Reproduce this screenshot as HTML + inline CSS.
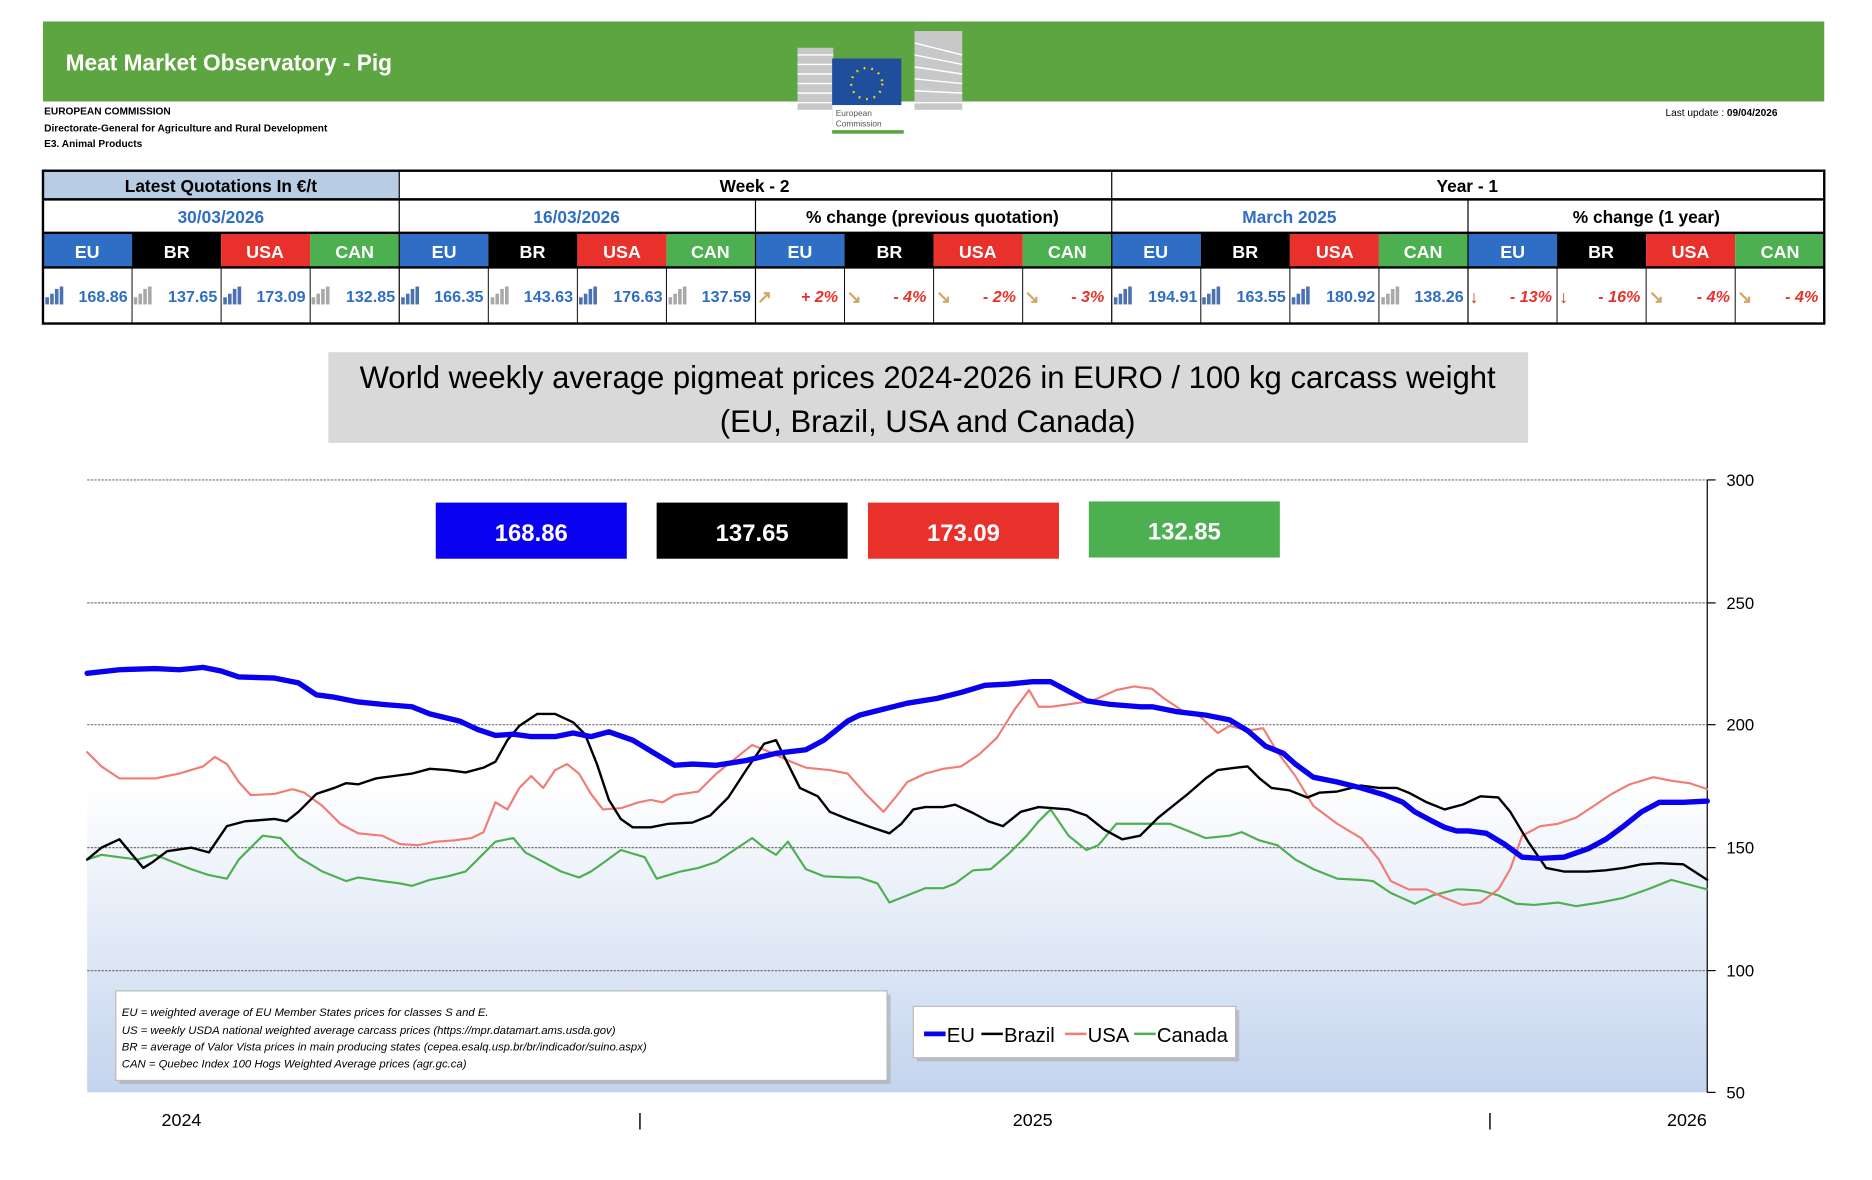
<!DOCTYPE html>
<html><head><meta charset="utf-8"><style>html,body{margin:0;padding:0;background:#fff}svg{display:block}</style></head><body>
<svg width="1872" height="1180" viewBox="0 0 1568 988.4" preserveAspectRatio="none" xmlns="http://www.w3.org/2000/svg" font-family="Liberation Sans, sans-serif">
<defs>
<linearGradient id="bg" x1="0" y1="0" x2="0" y2="1"><stop offset="0.5" stop-color="#ffffff"/><stop offset="1" stop-color="#c3d4ee"/></linearGradient>
</defs>
<!-- banner -->
<rect x="36" y="18" width="1492" height="67" fill="#5da540"/>
<text x="55" y="59" font-size="19" font-weight="bold" fill="#fff">Meat Market Observatory - Pig</text>
<g>
<g fill="#c8c8c8"><rect x="668" y="40" width="30" height="52"/><rect x="766" y="26" width="40" height="66"/></g>
<g stroke="#fff" stroke-width="1.2"><line x1="668" y1="46" x2="698" y2="46"/><line x1="668" y1="54" x2="698" y2="54"/><line x1="668" y1="62" x2="698" y2="62"/><line x1="668" y1="70" x2="698" y2="70"/><line x1="668" y1="78" x2="698" y2="78"/><line x1="668" y1="86" x2="698" y2="86"/><line x1="766" y1="36" x2="806" y2="46"/><line x1="766" y1="46" x2="806" y2="54"/><line x1="766" y1="56" x2="806" y2="62"/><line x1="766" y1="66" x2="806" y2="70"/><line x1="766" y1="76" x2="806" y2="78"/><line x1="766" y1="86" x2="806" y2="86"/></g>
<rect x="697" y="49" width="58" height="55" fill="#1f4e9c"/>
<circle cx="726" cy="70" r="13" fill="none" stroke="#ffd500" stroke-width="2" stroke-dasharray="1.5 5"/>
<rect x="697" y="88" width="60" height="20" fill="#fff"/>
<text x="700" y="97" font-size="7" fill="#555">European</text><text x="700" y="106" font-size="7" fill="#555">Commission</text>
<rect x="697" y="109" width="60" height="3" fill="#5da540"/>
</g>
<text x="37" y="96" font-size="8.5" font-weight="bold">EUROPEAN COMMISSION</text>
<text x="37" y="110" font-size="8.5" font-weight="bold">Directorate-General for Agriculture and Rural Development</text>
<text x="37" y="123" font-size="8.5" font-weight="bold">E3. Animal Products</text>
<text x="1395" y="97" font-size="8.5">Last update :  <tspan font-weight="bold">09/04/2026</tspan></text>

<!-- table -->
<rect x="36" y="143" width="298" height="24" fill="#b8cce4"/>
<g font-size="14.5" font-weight="bold" text-anchor="middle">
<text x="185" y="161">Latest Quotations In €/t</text>
<text x="632" y="161">Week - 2</text>
<text x="1229" y="161">Year - 1</text>
<text x="185" y="187" fill="#2e6ec4">30/03/2026</text>
<text x="483" y="187" fill="#2e6ec4">16/03/2026</text>
<text x="781" y="187">% change (previous quotation)</text>
<text x="1080" y="187" fill="#2e6ec4">March 2025</text>
<text x="1379" y="187">% change (1 year)</text>
</g>
<g>
<rect x="36" y="195" width="74.6" height="29" fill="#2e6ec4"/><rect x="110.6" y="195" width="74.6" height="29" fill="#000"/><rect x="185.2" y="195" width="74.6" height="29" fill="#e8312a"/><rect x="259.8" y="195" width="74.6" height="29" fill="#4caf50"/>
<rect x="334.4" y="195" width="74.6" height="29" fill="#2e6ec4"/><rect x="409" y="195" width="74.6" height="29" fill="#000"/><rect x="483.6" y="195" width="74.6" height="29" fill="#e8312a"/><rect x="558.2" y="195" width="74.6" height="29" fill="#4caf50"/>
<rect x="632.8" y="195" width="74.6" height="29" fill="#2e6ec4"/><rect x="707.4" y="195" width="74.6" height="29" fill="#000"/><rect x="782" y="195" width="74.6" height="29" fill="#e8312a"/><rect x="856.6" y="195" width="74.6" height="29" fill="#4caf50"/>
<rect x="931.2" y="195" width="74.6" height="29" fill="#2e6ec4"/><rect x="1005.8" y="195" width="74.6" height="29" fill="#000"/><rect x="1080.4" y="195" width="74.6" height="29" fill="#e8312a"/><rect x="1155" y="195" width="74.6" height="29" fill="#4caf50"/>
<rect x="1229.6" y="195" width="74.6" height="29" fill="#2e6ec4"/><rect x="1304.2" y="195" width="74.6" height="29" fill="#000"/><rect x="1378.8" y="195" width="74.6" height="29" fill="#e8312a"/><rect x="1453.4" y="195" width="74.6" height="29" fill="#4caf50"/>
</g>
<g font-size="15" font-weight="bold" fill="#fff" text-anchor="middle">
<text x="73" y="216">EU</text><text x="148" y="216">BR</text><text x="222" y="216">USA</text><text x="297" y="216">CAN</text>
<text x="372" y="216">EU</text><text x="446" y="216">BR</text><text x="521" y="216">USA</text><text x="595" y="216">CAN</text>
<text x="670" y="216">EU</text><text x="745" y="216">BR</text><text x="819" y="216">USA</text><text x="894" y="216">CAN</text>
<text x="968" y="216">EU</text><text x="1043" y="216">BR</text><text x="1118" y="216">USA</text><text x="1192" y="216">CAN</text>
<text x="1267" y="216">EU</text><text x="1341" y="216">BR</text><text x="1416" y="216">USA</text><text x="1491" y="216">CAN</text>
</g>
<!-- bar icons -->
<g id="ib"><rect x="38" y="249" width="3" height="6" fill="#4a72b0"/><rect x="42" y="246" width="3" height="9" fill="#4a72b0"/><rect x="46" y="242" width="3" height="13" fill="#4a72b0"/><rect x="50" y="240" width="3" height="15" fill="#4a72b0"/></g>
<g fill="#a8a8a8"><rect x="112" y="249" width="3" height="6"/><rect x="116" y="246" width="3" height="9"/><rect x="120" y="242" width="3" height="13"/><rect x="124" y="240" width="3" height="15"/></g>
<use href="#ib" x="149"/>
<g fill="#a8a8a8"><rect x="261" y="249" width="3" height="6"/><rect x="265" y="246" width="3" height="9"/><rect x="269" y="242" width="3" height="13"/><rect x="273" y="240" width="3" height="15"/></g>
<use href="#ib" x="298"/>
<g fill="#a8a8a8"><rect x="411" y="249" width="3" height="6"/><rect x="415" y="246" width="3" height="9"/><rect x="419" y="242" width="3" height="13"/><rect x="423" y="240" width="3" height="15"/></g>
<use href="#ib" x="447"/>
<g fill="#a8a8a8"><rect x="560" y="249" width="3" height="6"/><rect x="564" y="246" width="3" height="9"/><rect x="568" y="242" width="3" height="13"/><rect x="572" y="240" width="3" height="15"/></g>
<use href="#ib" x="895"/>
<use href="#ib" x="969"/>
<use href="#ib" x="1044"/>
<g fill="#a8a8a8"><rect x="1157" y="249" width="3" height="6"/><rect x="1161" y="246" width="3" height="9"/><rect x="1165" y="242" width="3" height="13"/><rect x="1169" y="240" width="3" height="15"/></g>
<g font-size="13.5" font-weight="bold" fill="#2e6ec4" text-anchor="end">
<text x="107" y="253">168.86</text><text x="182" y="253">137.65</text><text x="256" y="253">173.09</text><text x="331" y="253">132.85</text>
<text x="405" y="253">166.35</text><text x="480" y="253">143.63</text><text x="555" y="253">176.63</text><text x="629" y="253">137.59</text>
<text x="1003" y="253">194.91</text><text x="1077" y="253">163.55</text><text x="1152" y="253">180.92</text><text x="1226" y="253">138.26</text>
</g>
<g font-size="13.5" font-weight="bold" font-style="italic" fill="#e8312a" text-anchor="end">
<text x="702" y="253">+ 2%</text><text x="776" y="253">- 4%</text><text x="851" y="253">- 2%</text><text x="925" y="253">- 3%</text>
<text x="1300" y="253">- 13%</text><text x="1374" y="253">- 16%</text><text x="1449" y="253">- 4%</text><text x="1523" y="253">- 4%</text>
</g>
<g font-size="15" font-weight="bold">
<text x="634" y="254" fill="#d0a860">↗</text><text x="709" y="254" fill="#d0a860">↘</text><text x="784" y="254" fill="#d0a860">↘</text><text x="858" y="254" fill="#d0a860">↘</text>
<text x="1231" y="254" fill="#c0392b">↓</text><text x="1306" y="254" fill="#c0392b">↓</text><text x="1381" y="254" fill="#d0a860">↘</text><text x="1455" y="254" fill="#d0a860">↘</text>
</g>
<!-- table lines -->
<g stroke="#000" fill="none">
<rect x="36" y="143" width="1492" height="128" stroke-width="2"/>
<line x1="36" y1="167" x2="1528" y2="167" stroke-width="2"/>
<line x1="36" y1="195" x2="1528" y2="195" stroke-width="2"/>
<line x1="36" y1="224" x2="1528" y2="224" stroke-width="2"/>
<line x1="334.4" y1="143" x2="334.4" y2="271"/>
<line x1="931.2" y1="143" x2="931.2" y2="271"/>
<line x1="632.8" y1="167" x2="632.8" y2="271"/>
<line x1="1229.6" y1="167" x2="1229.6" y2="271"/>
<g stroke-width="0.8"><line x1="110.6" y1="224" x2="110.6" y2="271"/><line x1="185.2" y1="224" x2="185.2" y2="271"/><line x1="259.8" y1="224" x2="259.8" y2="271"/><line x1="409" y1="224" x2="409" y2="271"/><line x1="483.6" y1="224" x2="483.6" y2="271"/><line x1="558.2" y1="224" x2="558.2" y2="271"/><line x1="707.4" y1="224" x2="707.4" y2="271"/><line x1="782" y1="224" x2="782" y2="271"/><line x1="856.6" y1="224" x2="856.6" y2="271"/><line x1="1005.8" y1="224" x2="1005.8" y2="271"/><line x1="1080.4" y1="224" x2="1080.4" y2="271"/><line x1="1155" y1="224" x2="1155" y2="271"/><line x1="1304.2" y1="224" x2="1304.2" y2="271"/><line x1="1378.8" y1="224" x2="1378.8" y2="271"/><line x1="1453.4" y1="224" x2="1453.4" y2="271"/></g>
</g>

<!-- chart title -->
<rect x="275" y="295" width="1005" height="76" fill="#d9d9d9"/>
<g font-size="26" text-anchor="middle"><text x="777" y="325">World weekly average pigmeat prices 2024-2026 in EURO / 100 kg carcass weight</text><text x="777" y="362">(EU, Brazil, USA and Canada)</text></g>

<!-- plot -->
<rect x="73" y="402" width="1357" height="513" fill="url(#bg)"/>
<g stroke="#777" stroke-width="1" stroke-dasharray="2 1">
<line x1="73" y1="402" x2="1430" y2="402"/><line x1="73" y1="505" x2="1430" y2="505"/><line x1="73" y1="607" x2="1430" y2="607"/><line x1="73" y1="710" x2="1430" y2="710"/><line x1="73" y1="813" x2="1430" y2="813"/>
</g>
<g stroke="#000"><line x1="1430" y1="402" x2="1430" y2="915"/><line x1="1430" y1="402" x2="1437" y2="402"/><line x1="1430" y1="505" x2="1437" y2="505"/><line x1="1430" y1="607" x2="1437" y2="607"/><line x1="1430" y1="710" x2="1437" y2="710"/><line x1="1430" y1="813" x2="1437" y2="813"/><line x1="1430" y1="915" x2="1437" y2="915"/></g>
<g font-size="14" fill="#000"><text x="1446" y="407">300</text><text x="1446" y="510">250</text><text x="1446" y="612">200</text><text x="1446" y="715">150</text><text x="1446" y="818">100</text><text x="1446" y="920">50</text></g>
<g font-size="15" text-anchor="middle"><text x="152" y="943">2024</text><text x="536" y="943">|</text><text x="865" y="943">2025</text><text x="1248" y="943">|</text><text x="1413" y="943">2026</text></g>

<g fill="none" stroke-linejoin="round" stroke-linecap="round">
<polyline stroke="#4caf50" stroke-width="1.8" points="73,720 85,716 100,718 115,720 130,716 140,720 150,724 160,728 175,733 190,736 200,720 220,700 235,702 250,718 270,730 290,738 300,735 320,738 335,740 345,742 360,737 375,734 390,730 400,720 415,705 430,702 440,714 455,722 470,730 485,735 495,730 505,723 520,712 540,718 550,736 570,730 585,727 600,722 615,712 630,702 640,710 650,716 660,705 675,728 690,734 710,735 720,735 735,740 745,756 760,750 775,744 790,744 800,740 815,729 830,728 845,715 860,700 870,688 880,678 895,700 910,712 920,708 935,690 950,690 965,690 980,690 995,696 1010,702 1030,700 1040,697 1055,704 1070,708 1085,720 1100,728 1120,736 1140,737 1150,738 1165,748 1185,757 1200,750 1220,745 1225,745 1240,746 1255,750 1270,757 1285,758 1305,756 1320,759 1340,756 1360,752 1380,745 1400,737 1415,741 1430,745"/>
<polyline stroke="#f07c74" stroke-width="1.8" points="73,630 85,642 100,652 110,652 130,652 150,648 170,642 180,634 190,640 200,655 210,666 230,665 245,661 255,664 270,675 285,690 300,698 320,700 335,707 350,708 365,705 380,704 395,702 405,697 415,672 425,678 435,660 445,650 455,660 465,645 475,640 485,648 495,665 505,678 520,677 535,672 545,670 555,672 565,666 585,663 600,648 615,636 630,624 645,630 660,637 675,643 695,645 710,648 725,665 740,680 750,668 760,655 775,648 790,644 805,642 820,632 835,618 850,594 862,578 870,592 880,592 895,590 915,587 935,578 950,575 965,577 975,585 990,595 1005,600 1020,614 1030,608 1045,612 1058,610 1070,630 1085,650 1100,675 1120,690 1140,702 1155,720 1165,738 1180,745 1195,745 1210,752 1225,758 1240,756 1255,745 1265,728 1275,700 1290,692 1305,690 1320,685 1335,675 1350,665 1365,657 1385,651 1400,654 1415,656 1430,661"/>
<polyline stroke="#000" stroke-width="2" points="73,720 85,710 100,703 110,715 120,727 128,722 140,713 160,710 175,714 190,692 205,688 230,686 240,688 250,680 265,665 280,660 290,656 300,657 315,652 330,650 345,648 360,644 375,645 390,647 405,643 415,638 425,620 435,608 450,598 465,598 480,605 490,615 500,640 510,670 520,686 530,693 545,693 560,690 580,689 595,683 610,668 625,645 640,623 650,620 660,640 670,660 685,667 695,680 710,686 730,693 745,698 755,690 765,678 775,676 790,676 800,674 815,681 828,688 840,692 855,680 870,676 895,678 910,683 925,695 940,703 955,700 970,685 985,673 995,665 1010,652 1020,645 1035,643 1045,642 1055,652 1065,660 1080,662 1095,668 1105,664 1120,663 1140,658 1155,660 1170,660 1180,664 1195,672 1210,678 1225,674 1240,667 1255,668 1265,680 1280,705 1295,727 1310,730 1330,730 1345,729 1360,727 1375,724 1390,723 1410,724 1430,737"/>
<polyline stroke="#0a00f0" stroke-width="4.5" points="73,564 100,561 130,560 150,561 170,559 185,562 200,567 230,568 250,572 265,582 280,584 300,588 320,590 345,592 360,598 385,604 400,611 415,616 430,615 445,617 465,617 480,614 495,617 510,613 530,620 550,632 565,641 580,640 600,641 625,637 650,631 675,628 690,620 700,612 710,604 720,599 740,594 760,589 785,585 805,580 825,574 845,573 865,571 880,571 895,579 910,587 930,590 955,592 965,592 985,596 1010,599 1030,603 1045,612 1060,625 1075,631 1085,640 1100,651 1120,655 1140,660 1160,666 1175,672 1185,680 1200,688 1210,693 1220,696 1230,696 1245,698 1260,707 1275,718 1290,719 1310,718 1330,711 1345,703 1360,692 1375,680 1390,672 1410,672 1430,671"/>
</g>

<!-- value boxes -->
<rect x="365" y="421" width="160" height="47" fill="#0a00f0"/>
<rect x="550" y="421" width="160" height="47" fill="#000"/>
<rect x="727" y="421" width="160" height="47" fill="#e8312a"/>
<rect x="912" y="420" width="160" height="47" fill="#4caf50"/>
<g font-size="20" font-weight="bold" fill="#fff" text-anchor="middle">
<text x="445" y="453">168.86</text><text x="630" y="453">137.65</text><text x="807" y="453">173.09</text><text x="992" y="452">132.85</text>
</g>

<!-- notes box -->
<rect x="100" y="833" width="646" height="75" fill="#aaa" opacity="0.6"/>
<rect x="97" y="830" width="646" height="75" fill="#fff" stroke="#bbb"/>
<g font-size="9.5" font-style="italic">
<text x="102" y="851">EU    = weighted average of EU Member States prices for classes S and E.</text>
<text x="102" y="866">US    = weekly USDA national weighted average carcass prices (https://mpr.datamart.ams.usda.gov)</text>
<text x="102" y="880">BR    = average of Valor Vista prices in main producing states (cepea.esalq.usp.br/br/indicador/suino.aspx)</text>
<text x="102" y="894">CAN = Quebec Index 100 Hogs Weighted Average prices (agr.gc.ca)</text>
</g>
<rect x="768" y="846" width="270" height="43" fill="#aaa" opacity="0.6"/>
<rect x="765" y="843" width="270" height="43" fill="#fff" stroke="#bbb"/>
<g font-size="17">
<line x1="774" y1="866" x2="792" y2="866" stroke="#0a00f0" stroke-width="4"/><text x="793" y="873">EU</text>
<line x1="822" y1="866" x2="840" y2="866" stroke="#000" stroke-width="2"/><text x="841" y="873">Brazil</text>
<line x1="892" y1="866" x2="910" y2="866" stroke="#f07c74" stroke-width="2"/><text x="911" y="873">USA</text>
<line x1="950" y1="866" x2="968" y2="866" stroke="#4caf50" stroke-width="2"/><text x="969" y="873">Canada</text>
</g>
</svg>
</body></html>
